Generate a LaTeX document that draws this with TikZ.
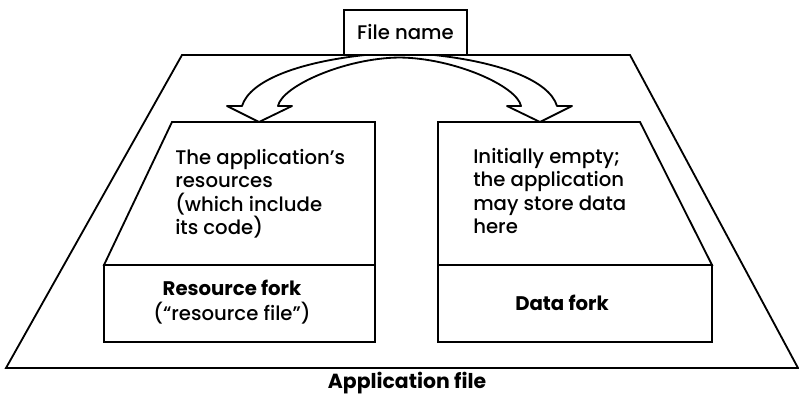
\documentclass[tikz,border=0pt]{standalone}
\usepackage{fontspec}
\setmainfont{Poppins}[UprightFont=* Medium, BoldFont=* Bold]
\usetikzlibrary{positioning,calc}

\begin{document}
\begin{tikzpicture}[
    x=0.025cm,
    y=-0.025cm,
    outline/.style={
        draw=black,
        line width=1.3pt,
        line join=miter
    },
    namebox/.style={
        rectangle,
        draw=black,
        line width=1.3pt,
        fill=white,
        minimum width=3.075cm,
        minimum height=1.125cm,
        inner sep=0pt,
        font=\fontsize{14}{16.7}\selectfont
    },
    forkbox/.style={
        rectangle,
        draw=black,
        line width=1.3pt,
        minimum height=1.925cm,
        inner sep=0pt
    },
    forknote/.style={
        anchor=north west,
        align=left,
        inner sep=0pt,
        font=\fontsize{14}{16.7}\selectfont
    },
    forklabel/.style={
        align=center,
        inner sep=0pt,
        font=\fontsize{14}{17.5}\selectfont
    },
    splitarrow/.style={
        draw=black,
        fill=white,
        line width=1.3pt,
        line join=round
    }
]
    \useasboundingbox (0,0) rectangle (799,404);

    % Application file outline
    \draw[outline] (182,55) -- (630,55) -- (798,368) -- (6,368) -- cycle;
    \node[forklabel, font=\fontsize{14.5}{17.5}\selectfont\bfseries] (appfile) at (407,383) {Application file};

    % Resource fork
    \draw[outline] (172,122) -- (375,122) -- (375,265) -- (104,265) -- cycle;
    \node[forkbox, minimum width=6.775cm] (rfork) at (239.5,303.5) {};
    \node[forknote] (rnote) at (175,149) {The application's\\resources\\(which include\\its code)};
    \node[forklabel] (rlabel) at (232,302) {\textbf{Resource fork}\\(``resource file'')};

    % Data fork
    \draw[outline] (438,122) -- (640,122) -- (712,265) -- (438,265) -- cycle;
    \node[forkbox, minimum width=6.85cm] (dfork) at (575,303.5) {};
    \node[forknote] (dnote) at (473,148) {Initially empty;\\the application\\may store data\\here};
    \node[forklabel, font=\fontsize{14}{17.5}\selectfont\bfseries] (dlabel) at (562,303) {Data fork};

    % Split arrow from the name to both forks
    \draw[splitarrow] (365,55)
        .. controls (300,62) and (250,80) .. (242,106)
        -- (227,106) -- (259,122) -- (292,106) -- (278,106)
        .. controls (282,86) and (345,58) .. (399.5,57.5)
        .. controls (454,58) and (517,86) .. (521,106)
        -- (507,106) -- (540,122) -- (572,106) -- (557,106)
        .. controls (549,80) and (499,62) .. (434,55) -- cycle;

    % File name on top
    \node[namebox] (fname) at (405.5,32.5) {File name};
\end{tikzpicture}
\end{document}
